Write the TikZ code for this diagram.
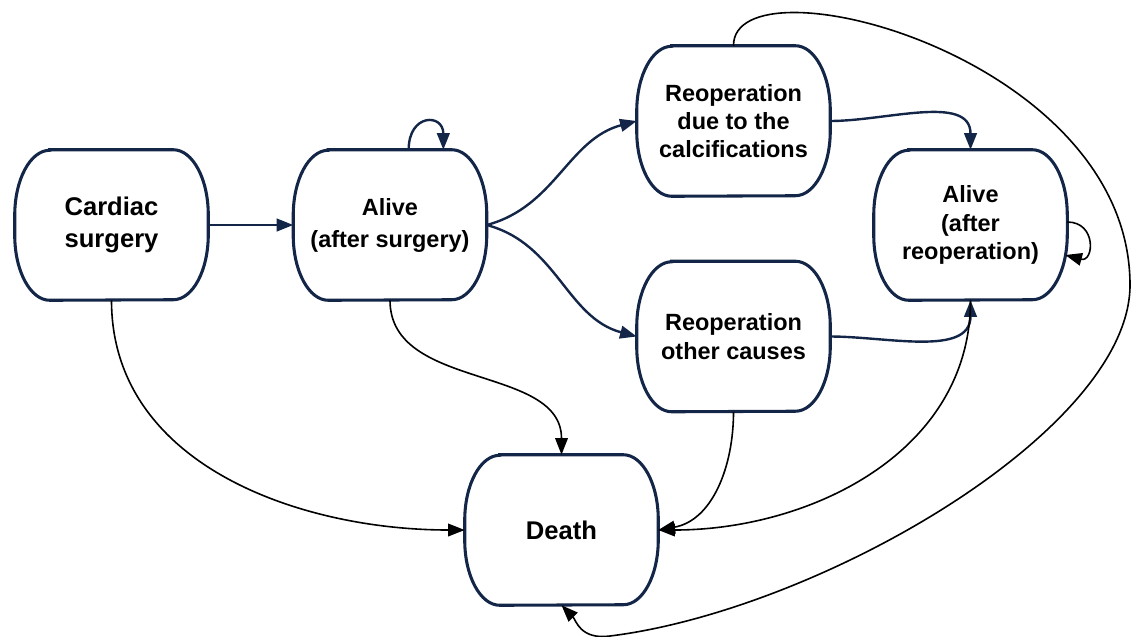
\documentclass[tikz,border=0pt]{standalone}
\usepackage{fontspec}
\setmainfont{Liberation Sans}
\usetikzlibrary{arrows.meta}
\definecolor{boxnavy}{RGB}{20,38,72}

\begin{document}
\begin{tikzpicture}[x=0.75pt,y=-0.75pt,
    state/.style={minimum width=144.75pt,minimum height=112.5pt,inner sep=0pt,align=center,
        font=\bfseries\fontsize{17.6}{21.2}\selectfont},
    bigtext/.style={font=\bfseries\fontsize{19.2}{24}\selectfont},
    outline/.style={draw=boxnavy,line width=2.3pt},
    navyarrow/.style={draw=boxnavy,line width=1.8pt,-{Triangle[length=12.5pt,width=9.5pt]}},
    blackarrow/.style={draw=black,line width=1.2pt,-{Triangle[length=12.5pt,width=9.5pt]}}]
    \useasboundingbox (0,0) rectangle (1134,636);
    % states
    \node[state,bigtext] (cardiac) at (111.5,225) {Cardiac\\surgery};
    \node[state,font=\bfseries\fontsize{17.6}{24}\selectfont] (alive) at (390,225) {Alive\\(after surgery)};
    \node[state] (calc) at (733.5,121) {Reoperation\\due to the\\calcifications};
    \node[state] (other) at (733.5,336.5) {Reoperation\\other causes};
    \node[state] (alivere) at (970.5,225) {Alive\\(after\\reoperation)};
    \node[state,bigtext] (death) at (561.5,530) {Death};
    % outlines
    \foreach \n in {cardiac,alive,calc,other,alivere,death}
        \draw[outline] ([xshift=26.25pt]\n.north west) -- ([xshift=-26.25pt]\n.north east)
            arc[start angle=90,end angle=0,x radius=26.25pt,y radius=48.75pt] -- ++(0,-15pt)
            arc[start angle=0,end angle=-90,x radius=26.25pt,y radius=48.75pt]
            -- ([xshift=26.25pt]\n.south west)
            arc[start angle=270,end angle=180,x radius=26.25pt,y radius=48.75pt] -- ++(0,15pt)
            arc[start angle=180,end angle=90,x radius=26.25pt,y radius=48.75pt] -- cycle;
    % transitions
    \draw[navyarrow] (cardiac.east) -- (alive.west);
    \draw[navyarrow] ([xshift=14pt]alive.north) to[out=90,in=90,looseness=2.7] ([xshift=40pt]alive.north);
    \draw[navyarrow] (alive.east) to[out=15,in=195] (calc.west);
    \draw[navyarrow] (alive.east) to[out=-15,in=165] (other.west);
    \draw[navyarrow] (calc.east) to[out=0,in=90] (alivere.north);
    \draw[navyarrow] (other.east) to[out=0,in=-90] (alivere.south);
    \draw[blackarrow] ([yshift=2.25pt]alivere.east) to[out=0,in=-15,looseness=2.3] ([xshift=-1.5pt,yshift=-22.5pt]alivere.east);
    \draw[blackarrow] (cardiac.south) to[out=-90,in=180] (death.west);
    \draw[blackarrow] (alive.south) to[out=-90,in=90] (death.north);
    \draw[blackarrow] (other.south) to[out=-90,in=10] (death.east);
    \draw[blackarrow] (alivere.south) to[out=-90,in=0] (death.east);
    \draw[blackarrow] (calc.north) .. controls (733,-45) and (1130,55) .. (1130,285)
        .. controls (1130,430) and (820,610) .. (610,636)
        .. controls (580,640) and (576,620) .. (death.south);
\end{tikzpicture}
\end{document}
